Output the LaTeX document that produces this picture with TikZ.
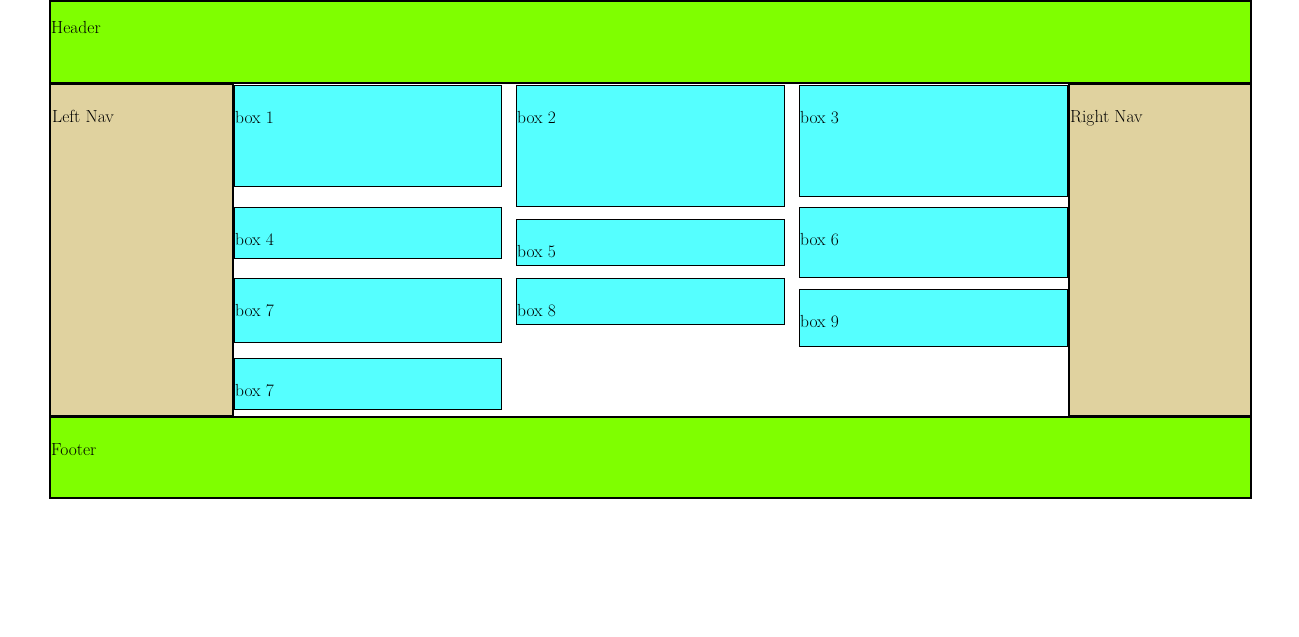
\documentclass[tikz,border=0pt]{standalone}
\usepackage{xcolor}
\usepackage{tikz}
\usetikzlibrary{positioning}
\definecolor{bandgreen}{HTML}{7FFF00}
\definecolor{navtan}{HTML}{E0D29F}
\definecolor{boxcyan}{HTML}{55FFFF}

\begin{document}
\begin{tikzpicture}[x=1pt, y=-1pt, font=\fontsize{17.5}{21}\selectfont,
    region/.style={draw, line width=2pt, inner sep=0pt, outer sep=0pt, anchor=north west},
    band/.style={region, fill=bandgreen, minimum width=1201pt, minimum height=81.5pt},
    nav/.style={region, fill=navtan, minimum height=331.5pt},
    cell/.style={draw, line width=1pt, fill=boxcyan, inner sep=0pt, outer sep=0pt, anchor=north west},
    txt/.style={anchor=base west, inner sep=0pt, text=black}]
    \useasboundingbox (0,0) rectangle (1299,637);

    \node [band] (header) at (50,1) {};
    \node [nav, minimum width=183pt] (leftnav) at (50,84) {};
    \node [nav, minimum width=182pt] (rightnav) at (1069,84) {};
    \node [band] (footer) at (50,416.5) {};

    \node [cell, minimum width=267pt, minimum height=101pt] (box1) at (234.5,85.5) {};
    \node [cell, minimum width=267pt, minimum height=51pt] (box4) at (234.5,207.5) {};
    \node [cell, minimum width=267pt, minimum height=64pt] (box7) at (234.5,278.5) {};
    \node [cell, minimum width=267pt, minimum height=51pt] (box7b) at (234.5,358.5) {};

    \node [cell, minimum width=268pt, minimum height=121pt] (box2) at (516.5,85.5) {};
    \node [cell, minimum width=268pt, minimum height=46pt] (box5) at (516.5,219.5) {};
    \node [cell, minimum width=268pt, minimum height=46pt] (box8) at (516.5,278.5) {};

    \node [cell, minimum width=268pt, minimum height=111pt] (box3) at (799.5,85.5) {};
    \node [cell, minimum width=268pt, minimum height=70pt] (box6) at (799.5,207.5) {};
    \node [cell, minimum width=268pt, minimum height=57pt] (box9) at (799.5,289.5) {};

    \node [txt] (headertxt) at (51,34) {Header};
    \node [txt] (leftnavtxt) at (52,122) {Left Nav};
    \node [txt] (rightnavtxt) at (1070,122) {Right Nav};
    \node [txt] (footertxt) at (51,455) {Footer};

    \node [txt] (box1txt) at (235,123) {box 1};
    \node [txt] (box4txt) at (235,245) {box 4};
    \node [txt] (box7txt) at (235,316) {box 7};
    \node [txt] (box7btxt) at (235,396) {box 7};
    \node [txt] (box2txt) at (517,123) {box 2};
    \node [txt] (box5txt) at (517,257) {box 5};
    \node [txt] (box8txt) at (517,316) {box 8};
    \node [txt] (box3txt) at (800,123) {box 3};
    \node [txt] (box6txt) at (800,245) {box 6};
    \node [txt] (box9txt) at (800,327) {box 9};
\end{tikzpicture}
\end{document}
